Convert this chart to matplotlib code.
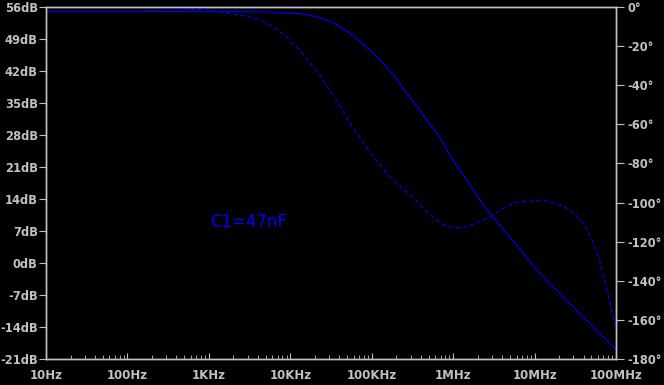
import numpy as np
import matplotlib.pyplot as plt
from matplotlib.ticker import FixedLocator, LogLocator, NullFormatter

# magnitude (solid), dB
mag_freq = [10, 100, 1e3, 3.2e3, 7.4e3, 12e3, 17.4e3, 28e3, 40.5e3, 53.7e3, 94e3, 166e3,
            293e3, 473e3, 683e3, 986e3, 1.47e6, 2.11e6, 2.8e6, 5.37e6, 10e6, 14e6,
            32.7e6, 62.8e6, 100e6]
mag_db = [55.05, 55.05, 55.0, 55.0, 54.85, 54.6, 54.25, 53.2, 51.8, 50.3, 46.6, 42.2,
          36.3, 31.3, 27.6, 22.5, 18.2, 13.8, 10.9, 5.0, -1.1, -3.7,
          -10.3, -15.3, -19.0]

# phase (dashed), degrees
ph_freq = [10, 140, 944, 2.4e3, 4.2e3, 7.4e3, 13.1e3, 23e3, 40.5e3, 53.7e3, 94e3, 166e3,
           318e3, 473e3, 683e3, 986e3, 1.38e6, 1.94e6, 2.8e6, 5.37e6, 11.5e6, 16.6e6,
           24.7e6, 32.7e6, 43.4e6, 57.7e6, 68.3e6, 83.2e6, 100e6]
ph_deg = [0, 0, -1.5, -4.1, -6.3, -12.1, -22.0, -34.8, -50.1, -59.3, -74.1, -86.9,
          -97.1, -104.8, -110.4, -113.0, -113.0, -110.4, -107.4, -100.2, -98.7, -99.7,
          -102.8, -106.3, -113.0, -124.2, -134.5, -149.8, -166.2]

x_ticks = [10, 100, 1e3, 1e4, 1e5, 1e6, 1e7, 1e8]
x_labels = ['10Hz', '100Hz', '1KHz', '10KHz', '100KHz', '1MHz', '10MHz', '100MHz']
db_ticks = list(range(-21, 57, 7))
deg_ticks = list(range(-180, 1, 20))

grey = '#c0c0c0'
blue = '#0000ff'

fig = plt.figure(figsize=(6.64, 3.85), dpi=100, facecolor='black')
ax = fig.add_axes([46/664, 1-359/385, 570/664, 352/385], facecolor='black')
ax2 = ax.twinx()

# resample the read points in log space and soften the corners
def smooth(f, v, n=500, w=4):
    lf = np.log10(f)
    xs = np.linspace(lf[0], lf[-1], n)
    ys = np.interp(xs, lf, v)
    pad = np.concatenate([np.full(w, ys[0]), ys, 2*ys[-1] - ys[-w:][::-1]])
    k = np.ones(2*w + 1) / (2*w + 1)
    ys = np.convolve(pad, k, mode='same')[w:-w]
    return 10**xs, ys

fx, fy = smooth(mag_freq, mag_db)
ax.plot(fx, fy, color=blue, lw=0.8)
px, py = smooth(ph_freq, ph_deg)
ax2.plot(px, py, color=blue, lw=0.8, linestyle=(0, (4, 2.5)))

ax.set_xscale('log')
ax.set_xlim(10, 1e8)
ax.set_ylim(-21, 56)
ax2.set_ylim(-180, 0)

ax.xaxis.set_major_locator(FixedLocator(x_ticks))
ax.set_xticklabels(x_labels)
ax.xaxis.set_minor_locator(LogLocator(base=10, subs=np.arange(2, 10)))
ax.xaxis.set_minor_formatter(NullFormatter())
ax.set_yticks(db_ticks)
ax.set_yticklabels([f'{t}dB' for t in db_ticks])
ax2.set_yticks(deg_ticks)
ax2.set_yticklabels([f'{t}°' for t in deg_ticks])

for a in (ax, ax2):
    for s in a.spines.values():
        s.set_color(grey)
        s.set_linewidth(1.0)
ax.tick_params(axis='x', which='major', direction='in', length=4, color=grey,
               labelcolor=grey, labelsize=8.5, pad=7)
ax.tick_params(axis='x', which='minor', direction='in', length=3, color=grey)
ax.tick_params(axis='y', direction='out', length=5, color=grey, labelcolor=grey,
               labelsize=8.3, pad=1)
ax2.tick_params(axis='y', direction='out', length=5.5, color=grey, labelcolor=grey,
                labelsize=8.3, pad=3)
for lab in ax.get_xticklabels() + ax.get_yticklabels() + ax2.get_yticklabels():
    lab.set_fontweight('bold')

ax.text(3.1e3, 9.0, 'C1=47nF', color=blue, fontsize=12, ha='center', va='center')

fig.savefig('out.png', dpi=100, facecolor='black')
